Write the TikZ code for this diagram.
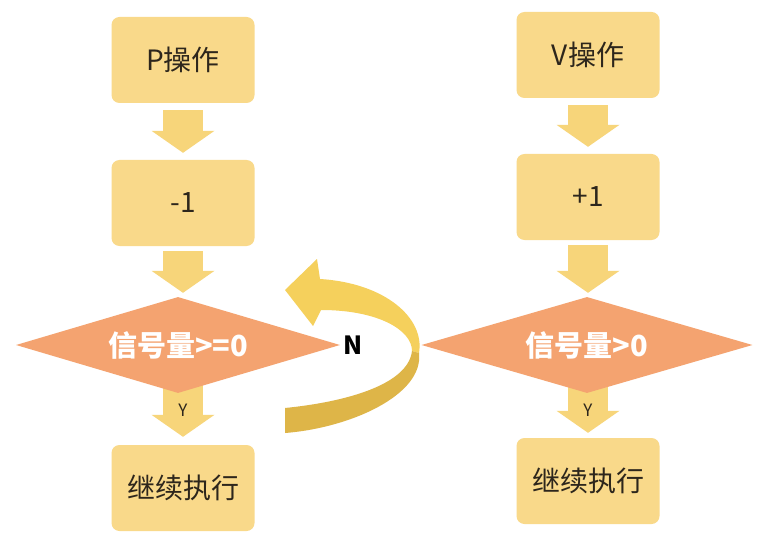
\documentclass[tikz,border=0pt]{standalone}
\usepackage{fontspec}
\setmainfont{Noto Sans CJK SC}
\usepackage{tikz}
\usetikzlibrary{shapes.geometric,arrows.meta,backgrounds}

\definecolor{boxfill}{RGB}{249,217,138}
\definecolor{boxtext}{RGB}{45,38,28}
\definecolor{arrowfill}{RGB}{247,213,122}
\definecolor{condfill}{RGB}{244,163,112}
\definecolor{turnlight}{RGB}{245,208,92}
\definecolor{turndark}{RGB}{222,181,72}

\begin{document}
\begin{tikzpicture}[x=1pt,y=-1pt,
  opbox/.style={rectangle,rounded corners=8pt,fill=boxfill,minimum width=143pt,minimum height=86pt,text=boxtext,font=\fontsize{28}{30}\selectfont},
  cond/.style={diamond,aspect=3.4,fill=condfill,inner sep=0pt,minimum width=#1,minimum height=96pt,text=white,font=\bfseries\fontsize{29}{31}\selectfont},
  flow/.style={draw=arrowfill,line width=40pt,-{Triangle[width=63pt,length=22pt,line width=0pt]}},
  yes/.style={text=boxtext,font=\fontsize{17}{19}\selectfont}]
% P side
\node[opbox] (p)  at (183,60)  {P操作};
\node[opbox] (pm) at (183,203) {-1};
\node[cond=324pt] (pd) at (178,345) {信号量>=0};
\node[opbox] (pc) at (183,488) {继续执行};
% V side
\node[opbox] (v)  at (588,55)  {V操作};
\node[opbox] (vm) at (588,197) {+1};
\node[cond=331pt] (vd) at (587,345) {信号量>0};
\node[opbox] (vc) at (588,481) {继续执行};

\begin{scope}[on background layer]
\fill[white] (0,0) rectangle (762,545);
\foreach \a/\b in {p/pm,v/vm} {
   \draw[flow,shorten <=7pt,shorten >=7pt] (\a) -- (\b);
}
\foreach \a/\b in {pm/pd,vm/vd} {
   \draw[flow,shorten <=5pt,shorten >=4pt] (\a) -- (\a |- \b.north);
}
\draw[flow,shorten >=8pt] (pc |- pd.center) -- (pc) node[yes,pos=0.65] {Y};
\draw[flow,shorten >=5pt] (vc |- vd.center) -- (vc) node[yes,pos=0.7] {Y};
\end{scope}

% turn back arrow
\fill[turnlight] (285,290) -- (317,259) -- (320,279)
   .. controls (385,283) and (425,318) .. (419,353) -- (412,351)
   .. controls (412,330) and (378,310) .. (321,310) -- (313,326) -- cycle;
\fill[turndark] (285,408) .. controls (345,402) and (408,385) .. (412,351)
   -- (419,353) .. controls (424,395) and (350,428) .. (285,433) -- cycle;
\node[font=\bfseries\fontsize{25}{27}\selectfont] (n) at (353,345) {N};
\end{tikzpicture}
\end{document}
